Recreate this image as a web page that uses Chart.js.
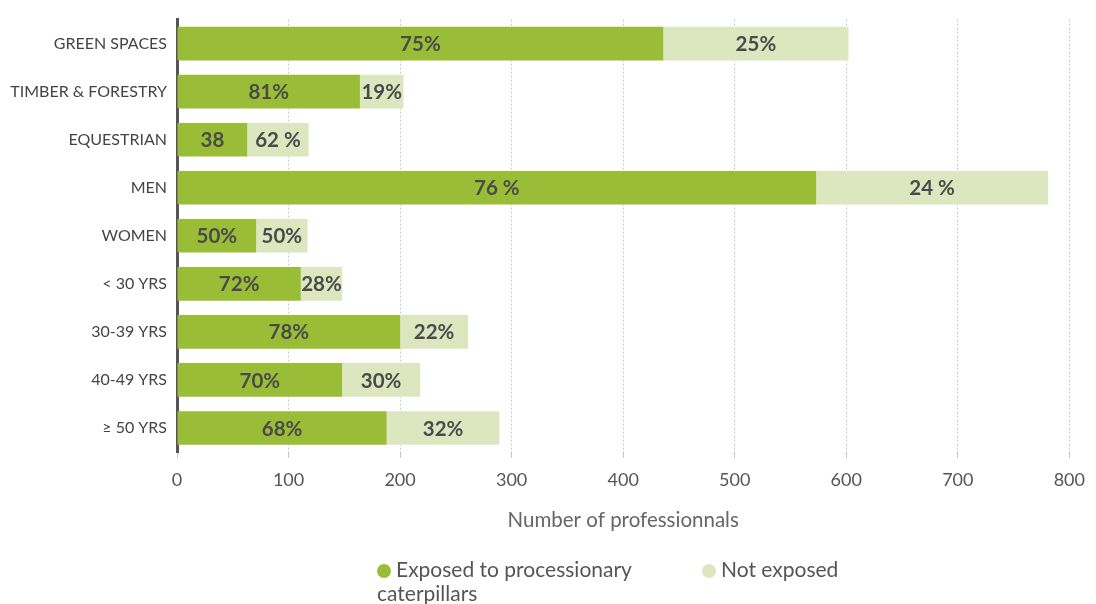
<!DOCTYPE html>
<html>
<head>
<meta charset="utf-8">
<script src="https://cdn.jsdelivr.net/npm/chart.js@4.4.1/dist/chart.umd.min.js"></script>
<style>
  html, body { margin: 0; padding: 0; background: #ffffff; }
  #wrap { position: relative; width: 1096px; height: 604px; overflow: hidden; }
  #c { position: absolute; left: 0; top: 0; }
  .lg-item { position: absolute; font-family: Lato, "Open Sans", sans-serif; font-size: 21px; line-height: 24px; color: #555555; }
  .lg-dot { display: inline-block; width: 14px; height: 14px; border-radius: 50%; margin-right: 5px; vertical-align: -1px; }
</style>
</head>
<body>
<div id="wrap">
  <canvas id="c" width="1096" height="604"></canvas>
  <div id="legend"></div>
</div>
<script>
// ---- Data ----
const categories = ['GREEN SPACES', 'TIMBER & FORESTRY', 'EQUESTRIAN', 'MEN', 'WOMEN', '< 30 YRS', '30-39 YRS', '40-49 YRS', '\u2265 50 YRS'];
const exposed = [436, 164, 63, 573, 71, 111, 200, 148, 188];
const notExposed = [166, 39, 55, 208, 46, 37, 61, 70, 101];
const exposedLabels = ['75%', '81%', '38', '76 %', '50%', '72%', '78%', '70%', '68%'];
const notExposedLabels = ['25%', '19%', '62 %', '24 %', '50%', '28%', '22%', '30%', '32%'];
const seriesNames = ['Exposed to processionary caterpillars', 'Not exposed'];
const xTickValues = [0, 100, 200, 300, 400, 500, 600, 700, 800];
const axisTitle = 'Number of professionnals';

const COLORS = ['#9abd37', '#dce6bf'];
const FONT = 'Lato, "Open Sans", sans-serif';

const segLabels = [exposedLabels, notExposedLabels];

const segmentLabelPlugin = {
  id: 'segmentLabels',
  afterDatasetsDraw(chart) {
    const ctx = chart.ctx;
    ctx.save();
    ctx.font = 'bold 20.5px ' + FONT;
    ctx.fillStyle = '#4a4a4a';
    ctx.textAlign = 'center';
    ctx.textBaseline = 'middle';
    chart.data.datasets.forEach((ds, di) => {
      const meta = chart.getDatasetMeta(di);
      meta.data.forEach((el, i) => {
        const txt = segLabels[di][i];
        const cx = (el.x + el.base) / 2;
        ctx.fillText(txt, cx, el.y + 1);
      });
    });
    ctx.restore();
  }
};

const chart = new Chart(document.getElementById('c'), {
  type: 'bar',
  data: {
    labels: categories,
    datasets: [
      { label: seriesNames[0], data: exposed, backgroundColor: COLORS[0], borderWidth: 0 },
      { label: seriesNames[1], data: notExposed, backgroundColor: COLORS[1], borderWidth: 0 }
    ]
  },
  options: {
    indexAxis: 'y',
    responsive: false,
    animation: false,
    devicePixelRatio: 1,
    layout: { padding: { top: 18, right: 22, left: 0, bottom: 0 } },
    datasets: { bar: { barPercentage: 0.7, categoryPercentage: 1 } },
    plugins: {
      legend: { display: false },
      tooltip: { enabled: false }
    },
    scales: {
      x: {
        stacked: true,
        min: 0,
        max: 800,
        afterBuildTicks(scale) { scale.ticks = xTickValues.map(v => ({ value: v })); },
        afterFit(scale) { scale.height = 152; },
        border: { display: false, dash: [2, 2] },
        grid: {
          color: '#c8c8c8',
          lineWidth: 1,
          tickLength: 6,
          drawTicks: true
        },
        ticks: {
          color: '#555555',
          font: { family: FONT, size: 18 },
          padding: 11,
          maxRotation: 0
        },
        title: {
          display: true,
          text: axisTitle,
          color: '#666666',
          font: { family: FONT, size: 20.5 },
          padding: { top: 0, bottom: 71 }
        }
      },
      y: {
        stacked: true,
        afterFit(scale) { scale.width = 177; },
        grid: { display: true, drawOnChartArea: false, drawTicks: false },
        border: { display: true, color: '#555555', width: 3 },
        ticks: {
          color: '#444444',
          font: { family: FONT, size: 16 },
          padding: 10
        }
      }
    }
  },
  plugins: [segmentLabelPlugin]
});

// ---- HTML legend built from the datasets ----
const legendPos = [{ left: 377, top: 557, width: 285 }, { left: 702, top: 557, width: 200 }];
const legendEl = document.getElementById('legend');
chart.data.datasets.forEach((ds, i) => {
  const item = document.createElement('div');
  item.className = 'lg-item';
  item.style.left = legendPos[i].left + 'px';
  item.style.top = legendPos[i].top + 'px';
  item.style.width = legendPos[i].width + 'px';
  const dot = document.createElement('span');
  dot.className = 'lg-dot';
  dot.style.background = ds.backgroundColor;
  item.appendChild(dot);
  item.appendChild(document.createTextNode(ds.label));
  legendEl.appendChild(item);
});
</script>
</body>
</html>
